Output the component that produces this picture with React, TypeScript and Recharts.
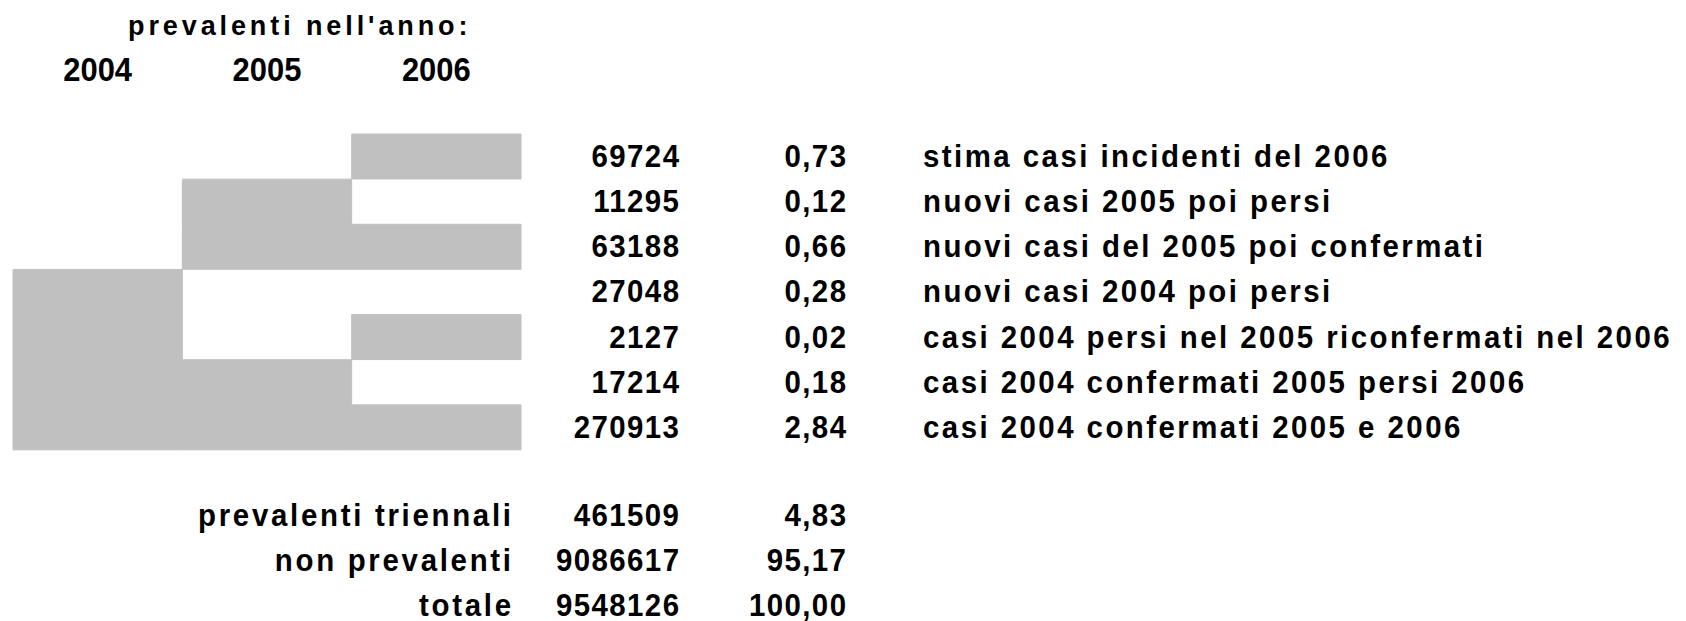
import { BarChart, Bar, Cell, XAxis, YAxis } from 'recharts';

const years = [2004, 2005, 2006];

const rowLabels = [
  'stima casi incidenti del 2006',
  'nuovi casi 2005 poi persi',
  'nuovi casi del 2005 poi confermati',
  'nuovi casi 2004 poi persi',
  'casi 2004 persi nel 2005 riconfermati nel 2006',
  'casi 2004 confermati 2005 persi 2006',
  'casi 2004 confermati 2005 e 2006',
];
const rowCases = [69724, 11295, 63188, 27048, 2127, 17214, 270913];
const rowPcts = [0.73, 0.12, 0.66, 0.28, 0.02, 0.18, 2.84];

// presence of the case in each year (1 = prevalent)
const in2004 = [0, 0, 0, 1, 1, 1, 1];
const in2005 = [0, 1, 1, 0, 0, 1, 1];
const in2006 = [1, 0, 1, 0, 1, 0, 1];

const summaryLabels = ['prevalenti triennali', 'non prevalenti', 'totale'];
const summaryCases = [461509, 9086617, 9548126];
const summaryPcts = [4.83, 95.17, 100.0];

const GREY = '#c0c0c0';
const FONT = "'Liberation Sans', Arial, sans-serif";

type Row = {
  id: string;
  kind: 'data' | 'blank' | 'summary';
  label: string;
  cases: number;
  pct: number;
  y2004: number;
  y2005: number;
  y2006: number;
  on: number[];
};

const rows: Row[] = [
  ...rowLabels.map((label, i) => ({
    id: `d${i}`,
    kind: 'data' as const,
    label,
    cases: rowCases[i],
    pct: rowPcts[i],
    y2004: 1,
    y2005: 1,
    y2006: 1,
    on: [in2004[i], in2005[i], in2006[i]],
  })),
  { id: 'gap', kind: 'blank', label: '', cases: 0, pct: 0, y2004: 1, y2005: 1, y2006: 1, on: [0, 0, 0] },
  ...summaryLabels.map((label, i) => ({
    id: `s${i}`,
    kind: 'summary' as const,
    label,
    cases: summaryCases[i],
    pct: summaryPcts[i],
    y2004: 1,
    y2005: 1,
    y2006: 1,
    on: [0, 0, 0],
  })),
];

const fmtPct = (v: number) => v.toFixed(2).replace('.', ',');

// bold text with a horizontal scale; ls is the final spacing in px
function NText({ x, y, anchor = 'start', size = 32, sx = 0.92, ls = 1.4, children }: any) {
  const shift = anchor === 'end' ? ls : anchor === 'middle' ? ls / 2 : 0;
  return (
    <text
      transform={`translate(${x + shift},${y}) scale(${sx},1)`}
      textAnchor={anchor}
      style={{ fontFamily: FONT, fontWeight: 700, fontSize: size, letterSpacing: ls / sx, fill: '#000' }}
    >
      {children}
    </text>
  );
}

function RowTick(props: any) {
  const { y, payload } = props;
  const row = rows.find((r) => r.id === payload.value);
  if (!row || row.kind === 'blank') return <g />;
  const base = y + (row.kind === 'summary' ? 8.5 : 10.5);
  return (
    <g>
      {row.kind === 'summary' && (
        <NText x={511} y={base} anchor="end" ls={2.7}>
          {row.label}
        </NText>
      )}
      <NText x={679} y={base} anchor="end">
        {row.cases}
      </NText>
      <NText x={846} y={base} anchor="end">
        {fmtPct(row.pct)}
      </NText>
      {row.kind === 'data' && (
        <NText x={923} y={base} ls={2.45}>
          {row.label}
        </NText>
      )}
    </g>
  );
}

function YearTick(props: any) {
  const { x, y, payload } = props;
  const year = years[Math.floor(payload.value)];
  return (
    <NText x={x} y={y - 45} anchor="middle" size={34} sx={0.91} ls={0}>
      {year}
    </NText>
  );
}

function TitleLabel() {
  return (
    <NText x={128} y={35} size={27} sx={1} ls={3.9}>
      prevalenti nell'anno:
    </NText>
  );
}

const ROW_H = 45.14;
const TOP = 134;
const AXIS_H = 40;

export default function App() {
  const chartH = 640;
  const plotH = ROW_H * rows.length;
  return (
    <div style={{ position: 'fixed', left: 0, top: 0, width: 1686, height: 621, overflow: 'hidden', background: '#fff' }}>
      <BarChart
        width={1686}
        height={chartH}
        data={rows}
        layout="vertical"
        barCategoryGap={0}
        margin={{ top: TOP - AXIS_H, left: 12, right: 1686 - 521, bottom: chartH - TOP - plotH }}
      >
        <XAxis
          type="number"
          orientation="top"
          domain={[0, 3]}
          ticks={[0.5, 1.5, 2.5]}
          height={AXIS_H}
          axisLine={false}
          tickLine={false}
          tick={<YearTick />}
          label={<TitleLabel />}
        />
        <YAxis
          type="category"
          dataKey="id"
          width={1}
          interval={0}
          axisLine={false}
          tickLine={false}
          tick={<RowTick />}
        />
        {(['y2004', 'y2005', 'y2006'] as const).map((key, col) => (
          <Bar key={key} dataKey={key} stackId="p" isAnimationActive={false}>
            {rows.map((r) => (
              <Cell
                key={r.id}
                fill={r.on[col] ? GREY : 'transparent'}
                stroke={r.on[col] ? GREY : 'none'}
                strokeWidth={1}
              />
            ))}
          </Bar>
        ))}
      </BarChart>
    </div>
  );
}
